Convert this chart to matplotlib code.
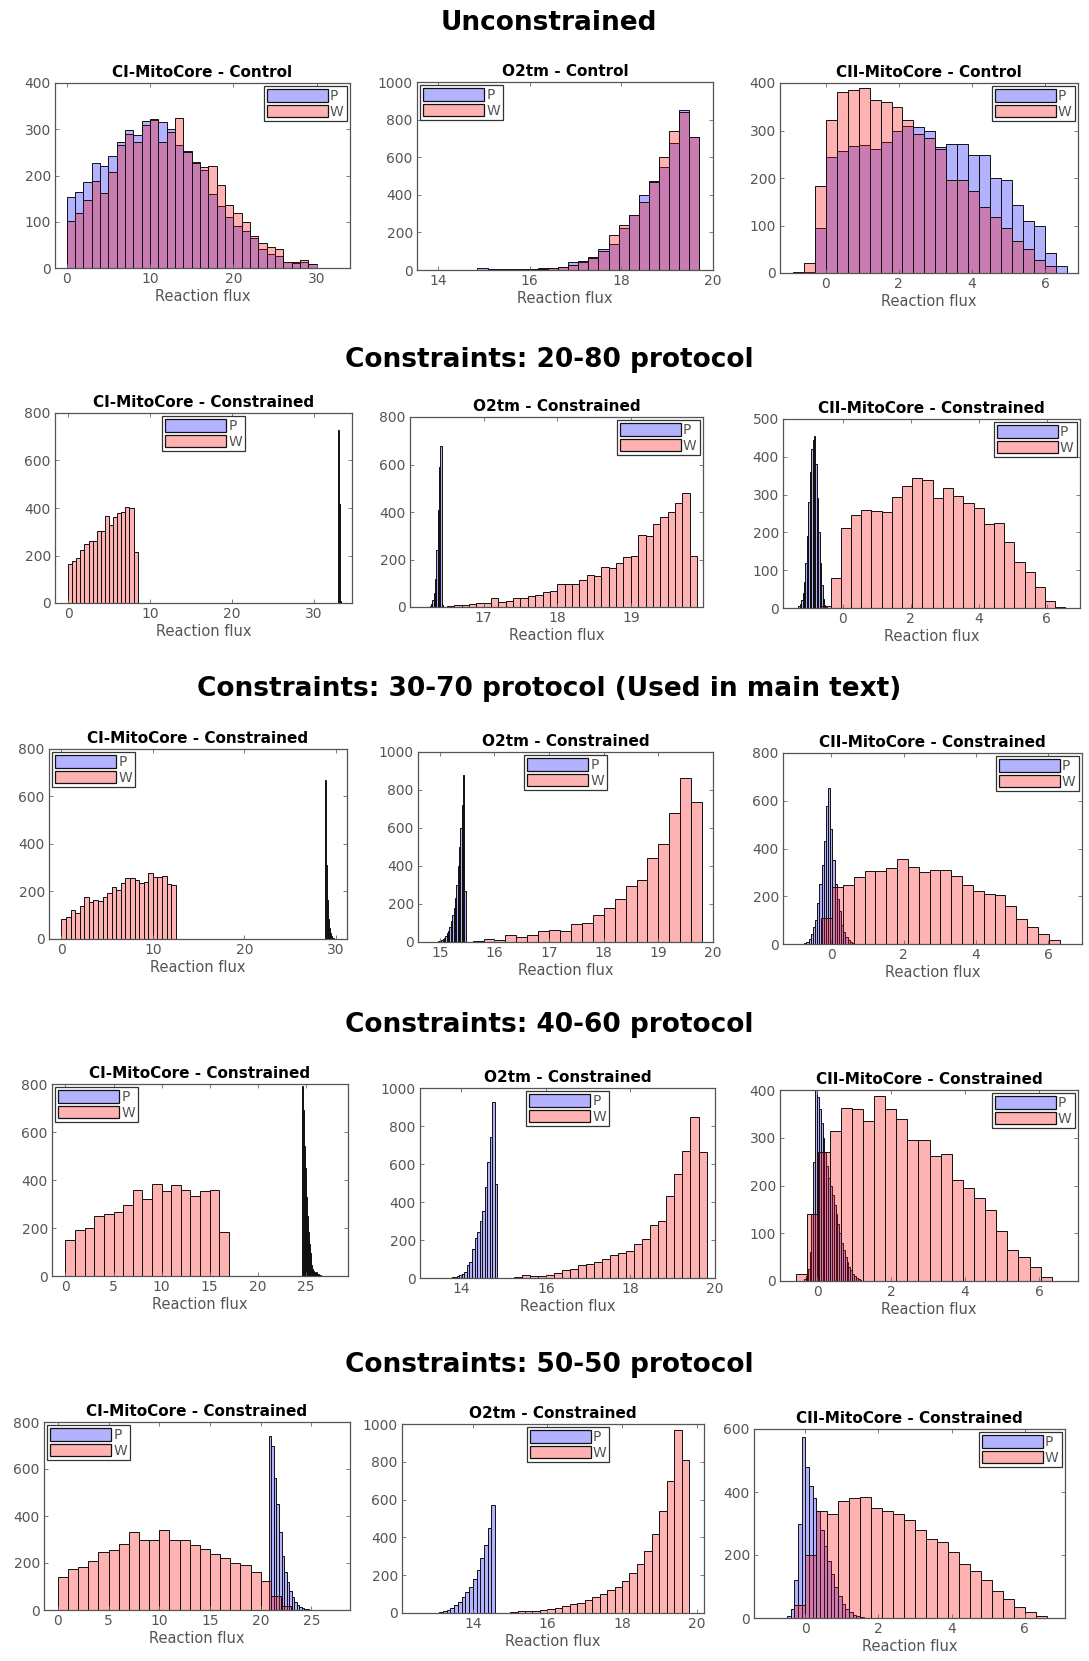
import matplotlib.pyplot as plt
from matplotlib.patches import Patch
import numpy as np

plt.rcParams['font.family'] = ['DejaVu Sans']

# ---- data (bin start, bin width, counts) ----
section_titles = ['Unconstrained', 'Constraints: 20-80 protocol',
                  'Constraints: 30-70 protocol (Used in main text)',
                  'Constraints: 40-60 protocol', 'Constraints: 50-50 protocol']

# unconstrained
ci_ctrl_p = (0, 1, [153, 165, 185, 228, 220, 243, 272, 298, 288, 318, 320, 315, 300, 265, 252,
                    230, 212, 160, 135, 110, 90, 80, 65, 42, 30, 25, 12, 10, 12, 8])
ci_ctrl_w = (0, 1, [102, 120, 148, 188, 163, 207, 266, 290, 272, 310, 322, 272, 295, 324, 250,
                    228, 218, 220, 180, 137, 118, 100, 70, 55, 45, 42, 12, 12, 18, 8])
o2_ctrl_p = (14.86, 0.22, [8, 4, 3, 3, 3, 4, 8, 12, 15, 40, 50, 70, 110, 140, 225, 295, 400,
                           475, 550, 675, 850, 710])
o2_ctrl_w = (14.86, 0.22, [2, 2, 2, 2, 3, 3, 5, 10, 18, 25, 45, 65, 100, 185, 240, 295, 360,
                           470, 600, 740, 840, 705])
cii_ctrl_p = (-0.9, 0.3, [2, 2, 95, 245, 257, 268, 270, 262, 275, 298, 310, 307, 300, 265, 272,
                          272, 248, 248, 200, 195, 143, 110, 100, 43, 15])
cii_ctrl_w = (-0.9, 0.3, [0, 22, 183, 323, 382, 385, 390, 365, 360, 350, 322, 293, 285, 262, 195,
                          195, 173, 140, 118, 95, 68, 50, 28, 15, 0])

# 20-80
ci_2080_p = (33.0, 0.1, [730, 415, 8])
ci_2080_w = (0, 0.5, [165, 178, 188, 222, 250, 262, 262, 305, 305, 368, 330, 362, 378, 385, 405,
                      398, 215])
o2_2080_p = (16.25, 0.018, [2, 5, 12, 30, 60, 120, 240, 410, 590, 680, 8])
o2_2080_w = (16.5, 0.1, [5, 8, 10, 12, 15, 18, 38, 22, 25, 38, 40, 48, 52, 62, 68, 95, 95, 95,
                         112, 135, 132, 168, 165, 185, 210, 215, 305, 300, 350, 378, 398, 440,
                         478, 215])
cii_2080_p = (-1.3, 0.042, [5, 10, 20, 40, 70, 120, 190, 280, 360, 420, 445, 455, 380, 290, 200,
                            120, 60, 25, 8, 3])
cii_2080_w = (-0.65, 0.3, [5, 80, 212, 245, 260, 257, 255, 293, 323, 345, 338, 290, 317, 297,
                           278, 265, 222, 226, 175, 122, 95, 55, 18, 3])

# 30-70
ci_3070_p = (28.75, 0.12, [668, 310, 165, 85, 45, 25, 12, 6, 3])
ci_3070_w = (0, 0.5, [85, 92, 120, 108, 138, 175, 155, 165, 160, 178, 195, 218, 205, 235, 255,
                      255, 250, 235, 240, 278, 262, 262, 265, 232, 228])
o2_3070_p = (14.95, 0.025, [2, 4, 6, 10, 15, 22, 30, 45, 60, 80, 110, 140, 180, 230, 300, 400,
                            500, 600, 720, 880, 270])
o2_3070_w = (15.6, 0.2, [5, 15, 10, 35, 25, 35, 60, 65, 60, 95, 100, 140, 180, 225, 295, 325,
                         440, 515, 680, 865, 735])
cii_3070_p = (-0.75, 0.06, [5, 10, 20, 40, 70, 100, 170, 250, 330, 430, 580, 655, 480, 350, 250,
                            190, 140, 80, 50, 30, 15, 8, 3])
cii_3070_w = (-0.28, 0.3, [110, 240, 248, 282, 305, 305, 318, 355, 322, 300, 310, 310, 285, 248,
                           220, 210, 205, 160, 103, 70, 40, 18])

# 40-60
ci_4060_p = (24.6, 0.1, [790, 690, 540, 450, 330, 250, 185, 135, 95, 65, 45, 30, 22, 15, 12,
                         18, 10, 8, 5, 3, 2, 1])
ci_4060_w = (0, 1, [150, 193, 202, 248, 258, 265, 295, 360, 322, 385, 355, 378, 360, 332, 355,
                    358, 185])
o2_4060_p = (13.65, 0.06, [2, 2, 3, 5, 8, 15, 20, 30, 70, 85, 155, 210, 240, 300, 355, 480, 610,
                           740, 925, 495])
o2_4060_w = (15.24, 0.19, [3, 15, 8, 8, 15, 25, 40, 48, 70, 75, 85, 100, 120, 130, 140, 180, 205,
                           278, 300, 430, 545, 670, 845, 665])
cii_4060_p = (-0.35, 0.05, [5, 10, 25, 60, 140, 250, 400, 385, 360, 330, 300, 270, 240, 215, 200,
                            180, 160, 140, 120, 100, 80, 65, 50, 40, 30, 22, 15, 10, 6, 4, 2])
cii_4060_w = (-0.56, 0.3, [15, 140, 270, 315, 362, 360, 335, 388, 360, 340, 295, 295, 262, 265,
                           212, 195, 173, 148, 105, 65, 50, 30, 8])

# 50-50
ci_5050_p = (20.8, 0.25, [740, 700, 560, 450, 330, 230, 160, 120, 80, 55, 35, 20, 12, 8, 5, 3])
ci_5050_w = (0, 1, [140, 175, 185, 210, 245, 255, 280, 330, 300, 300, 340, 300, 300, 275, 260,
                    240, 220, 200, 190, 160, 125, 60, 15])
o2_5050_p = (13.0, 0.1, [2, 5, 10, 15, 25, 40, 60, 85, 110, 140, 180, 230, 290, 360, 450, 570])
o2_5050_w = (15.0, 0.2, [5, 8, 10, 12, 15, 20, 28, 35, 45, 55, 70, 85, 100, 120, 140, 170, 210,
                         260, 330, 420, 540, 700, 970, 810])
cii_5050_p = (-0.5, 0.1, [5, 30, 120, 300, 575, 480, 420, 380, 340, 280, 230, 180, 140, 100, 70,
                          45, 30, 18, 10, 5, 3])
cii_5050_w = (-0.3, 0.3, [40, 200, 340, 330, 370, 380, 385, 350, 340, 330, 310, 280, 250, 240,
                          210, 170, 150, 120, 85, 60, 35, 20, 5])

# ---- layout ----
W_PX, H_PX = 1089, 1661
section_y = [23, 360, 689, 1025, 1365]

# each: (left, top, right, bottom px), title, P, W, xlim, xticks, ylim, ystep, legend loc, anchor
panels = [
    ((55, 83, 350, 268), 'CI-MitoCore - Control', ci_ctrl_p, ci_ctrl_w,
     (-1.4, 34), [0, 10, 20, 30], 400, 100, 'upper right', None),
    ((417, 82, 713, 270), 'O2tm - Control', o2_ctrl_p, o2_ctrl_w,
     (13.54, 20.0), [14, 16, 18, 20], 1000, 200, 'upper left', None),
    ((780, 83, 1078, 273), 'CII-MitoCore - Control', cii_ctrl_p, cii_ctrl_w,
     (-1.25, 6.9), [0, 2, 4, 6], 400, 100, 'upper right', None),

    ((55, 413, 352, 603), 'CI-MitoCore - Constrained', ci_2080_p, ci_2080_w,
     (-1.6, 34.7), [0, 10, 20, 30], 800, 200, 'upper center', None),
    ((410, 417, 703, 607), 'O2tm - Constrained', o2_2080_p, o2_2080_w,
     (16.0, 19.98), [17, 18, 19], 800, 200, 'upper right', None),
    ((783, 419, 1080, 608), 'CII-MitoCore - Constrained', cii_2080_p, cii_2080_w,
     (-1.75, 6.98), [0, 2, 4, 6], 500, 100, 'upper right', None),

    ((49, 749, 347, 939), 'CI-MitoCore - Constrained', ci_3070_p, ci_3070_w,
     (-1.35, 31.2), [0, 10, 20, 30], 800, 200, 'upper left', None),
    ((418, 752, 713, 942), 'O2tm - Constrained', o2_3070_p, o2_3070_w,
     (14.6, 20.0), [15, 16, 17, 18, 19, 20], 1000, 200, 'upper center', None),
    ((783, 753, 1082, 944), 'CII-MitoCore - Constrained', cii_3070_p, cii_3070_w,
     (-1.34, 6.94), [0, 2, 4, 6], 800, 200, 'upper right', None),

    ((52, 1084, 348, 1276), 'CI-MitoCore - Constrained', ci_4060_p, ci_4060_w,
     (-1.4, 29.4), [0, 5, 10, 15, 20, 25], 800, 200, 'upper left', None),
    ((420, 1088, 715, 1278), 'O2tm - Constrained', o2_4060_p, o2_4060_w,
     (13.02, 20.0), [14, 16, 18, 20], 1000, 200, 'upper center', None),
    ((780, 1090, 1078, 1281), 'CII-MitoCore - Constrained', cii_4060_p, cii_4060_w,
     (-1.0, 7.05), [0, 2, 4, 6], 400, 100, 'upper right', None),

    ((44, 1422, 350, 1610), 'CI-MitoCore - Constrained', ci_5050_p, ci_5050_w,
     (-1.36, 28.8), [0, 5, 10, 15, 20, 25], 800, 200, 'upper left', None),
    ((402, 1424, 704, 1613), 'O2tm - Constrained', o2_5050_p, o2_5050_w,
     (12.1, 20.2), [14, 16, 18, 20], 1000, 200, 'upper center', (0.55, 1.0)),
    ((754, 1429, 1065, 1618), 'CII-MitoCore - Constrained', cii_5050_p, cii_5050_w,
     (-1.4, 7.1), [0, 2, 4, 6], 600, 200, 'upper right', None),
]

P_FACE = (0, 0, 1, 0.3)
W_FACE = (1, 0, 0, 0.3)
EDGE = '#111111'
GRAY = '#555555'

fig = plt.figure(figsize=(W_PX / 100, H_PX / 100), dpi=100)

for y, t in zip(section_y, section_titles):
    fig.text(0.504, 1 - y / H_PX, t, ha='center', va='center', fontsize=19,
             fontweight='bold', color='black')


def draw_hist(ax, spec, face):
    start, width, counts = spec
    counts = np.array(counts)
    lefts = start + width * np.arange(len(counts))
    ax.bar(lefts, counts, width=width, align='edge', color=face,
           edgecolor=EDGE, linewidth=0.7)


for rect, title, pdat, wdat, xlim, xticks, ymax, ystep, loc, anchor in panels:
    l, t, r, b = rect
    ax = fig.add_axes([l / W_PX, 1 - b / H_PX, (r - l) / W_PX, (b - t) / H_PX])
    draw_hist(ax, pdat, P_FACE)
    draw_hist(ax, wdat, W_FACE)
    ax.set_xlim(*xlim)
    ax.set_ylim(0, ymax)
    ax.set_xticks(xticks)
    ax.set_yticks(np.arange(0, ymax + 1, ystep))
    ax.set_title(title, fontsize=11, fontweight='bold', pad=4)
    ax.set_xlabel('Reaction flux', fontsize=10.5, color=GRAY, labelpad=2)
    ax.tick_params(direction='in', top=True, right=True, length=3, width=0.6,
                   labelsize=10, labelcolor=GRAY, color='#666666', pad=3)
    for s in ax.spines.values():
        s.set_color('#555555')
        s.set_linewidth(0.9)
    handles = [Patch(facecolor=P_FACE, edgecolor=EDGE, linewidth=0.9),
               Patch(facecolor=W_FACE, edgecolor=EDGE, linewidth=0.9)]
    kw = dict(loc=loc, fontsize=10, handlelength=4.4, handleheight=1.0,
              handletextpad=0.15, labelspacing=0.1, borderpad=0.2,
              borderaxespad=0.25, fancybox=False, framealpha=1)
    if anchor is not None:
        kw['bbox_to_anchor'] = anchor
    leg = ax.legend(handles, ['P', 'W'], **kw)
    leg.get_frame().set_edgecolor('#333333')
    leg.get_frame().set_linewidth(0.9)
    for txt in leg.get_texts():
        txt.set_color(GRAY)

fig.savefig('out.png', dpi=100)
